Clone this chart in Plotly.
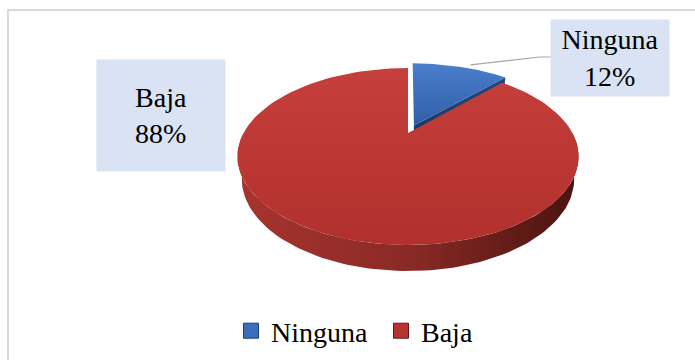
import math
import plotly.graph_objects as go

# Slice data
labels = ["Ninguna", "Baja"]
values = [12, 88]
explode = [0.1, 0.0]
top_colors = [["#4a7fcc", "#2f5ea6"], ["#c63f3b", "#b1302d"]]
wall_colors = [["#2b568f", "#1c3a66"], ["#a8332e", "#8a2a25", "#4a130f"]]
legend_colors = ["#3b6fbe", "#b8322f"]
label_lines = [["Ninguna", "12%"], ["Baja", "88%"]]

W, H = 695, 360
FONT = "Liberation Serif, Times New Roman, serif"

# Perspective camera for a tilted disc of unit radius
CX, CY = 408.0, 133.0
FOC = 536.0
DIST = 3.26
TILT = math.radians(30)
C, S = math.cos(TILT), math.sin(TILT)
THICK = 0.158


def proj(X, Y, Z):
    d = DIST + Y * C - Z * S
    return CX + FOC * X / d, CY - FOC * (Y * S + Z * C) / d


def rim(phi_deg, off, Z):
    p = math.radians(phi_deg)
    return proj(off[0] + math.sin(p), off[1] + math.cos(p), Z)


def arc(a0, a1, off, Z, n=120):
    pts = []
    for i in range(n + 1):
        pts.append(rim(a0 + (a1 - a0) * i / n, off, Z))
    return pts


total = sum(values)
spans = []
start = 0.0
for v in values:
    span = 360.0 * v / total
    spans.append((start, start + span))
    start += span

offsets = []
for (a0, a1), e in zip(spans, explode):
    mid = math.radians((a0 + a1) / 2)
    offsets.append((e * math.sin(mid), e * math.cos(mid)))

fig = go.Figure()


def poly(pts, grad=None):
    xs = [p[0] for p in pts] + [pts[0][0]]
    ys = [p[1] for p in pts] + [pts[0][1]]
    kw = dict(x=xs, y=ys, mode="lines", fill="toself",
              line=dict(width=0), hoverinfo="skip", showlegend=False)
    if grad is not None:
        kw["fillgradient"] = grad
    fig.add_trace(go.Scatter(**kw))


# Outer curved walls (front half only is visible)
for i, ((a0, a1), off) in enumerate(zip(spans, offsets)):
    lo, hi = max(a0, 90.0), min(a1, 270.0)
    if hi <= lo:
        continue
    top = arc(lo, hi, off, 0.0)
    bot = arc(lo, hi, off, -THICK)
    pts = top + bot[::-1]
    xs = [p[0] for p in pts]
    cols = wall_colors[i]
    cs = [[k / (len(cols) - 1), c] for k, c in enumerate(cols)]
    poly(pts, dict(type="horizontal", colorscale=cs,
                   start=min(xs), stop=max(xs)))

# Radial cut face on the trailing edge of the first slice
a0, a1 = spans[0]
off = offsets[0]
apex_t = proj(off[0], off[1], 0.0)
apex_b = proj(off[0], off[1], -THICK)
face = [apex_t, rim(a1, off, 0.0), rim(a1, off, -THICK), apex_b]
poly(face, dict(type="vertical", colorscale=[[0, "#24487e"], [1, "#1a3560"]],
                start=min(p[1] for p in face), stop=max(p[1] for p in face)))

# Top faces, largest first
for i in [1, 0]:
    (a0, a1), off = spans[i], offsets[i]
    pts = [proj(off[0], off[1], 0.0)] + arc(a0, a1, off, 0.0)
    ys = [p[1] for p in pts]
    poly(pts, dict(type="vertical",
                   colorscale=[[0, top_colors[i][0]], [1, top_colors[i][1]]],
                   start=min(ys), stop=max(ys)))

# Leader line from the small slice to its label
lx, ly = rim((spans[0][0] + spans[0][1]) / 2, offsets[0], 0.0)
fig.add_trace(go.Scatter(x=[lx + 10, 540, 551], y=[ly - 2, 57, 57], mode="lines",
                         line=dict(color="#a6a6a6", width=1.2),
                         hoverinfo="skip", showlegend=False))

# Data labels
label_boxes = [(610, 58, 118, 76), (161, 115, 128, 111)]
for lines, (bx, by, bw, bh) in zip(label_lines, label_boxes):
    fig.add_annotation(x=bx, y=by, xref="x", yref="y",
                       text="<br>".join(lines), showarrow=False,
                       width=bw, height=bh, bgcolor="#dae3f3",
                       borderpad=0, align="center", valign="middle",
                       font=dict(family=FONT, size=28, color="#000000"))

# Legend entries
edge_colors = ["#1e3f75", "#5a1a1a"]
for name, col, edge in zip(labels, legend_colors, edge_colors):
    fig.add_trace(go.Scatter(x=[None], y=[None], mode="markers", name=name,
                             marker=dict(symbol="square", size=15, color=col,
                                         line=dict(color=edge, width=1))))

# Chart frame
fig.add_shape(type="rect", xref="x", yref="y", x0=8, y0=10, x1=W + 5, y1=H + 5,
              line=dict(color="#d9d9d9", width=2), fillcolor="rgba(0,0,0,0)",
              layer="below")

fig.update_layout(
    width=W, height=H,
    margin=dict(l=0, r=0, t=0, b=0),
    paper_bgcolor="white", plot_bgcolor="white",
    xaxis=dict(range=[0, W], visible=False, fixedrange=True),
    yaxis=dict(range=[H, 0], visible=False, fixedrange=True),
    showlegend=True,
    legend=dict(orientation="h", x=231 / W, xanchor="left", y=1 - 331 / H,
                yanchor="middle", font=dict(family=FONT, size=28, color="#000000"),
                bgcolor="rgba(0,0,0,0)", itemwidth=30, tracegroupgap=0,
                entrywidth=105, entrywidthmode="pixels"),
)

fig.write_html("out.html")
